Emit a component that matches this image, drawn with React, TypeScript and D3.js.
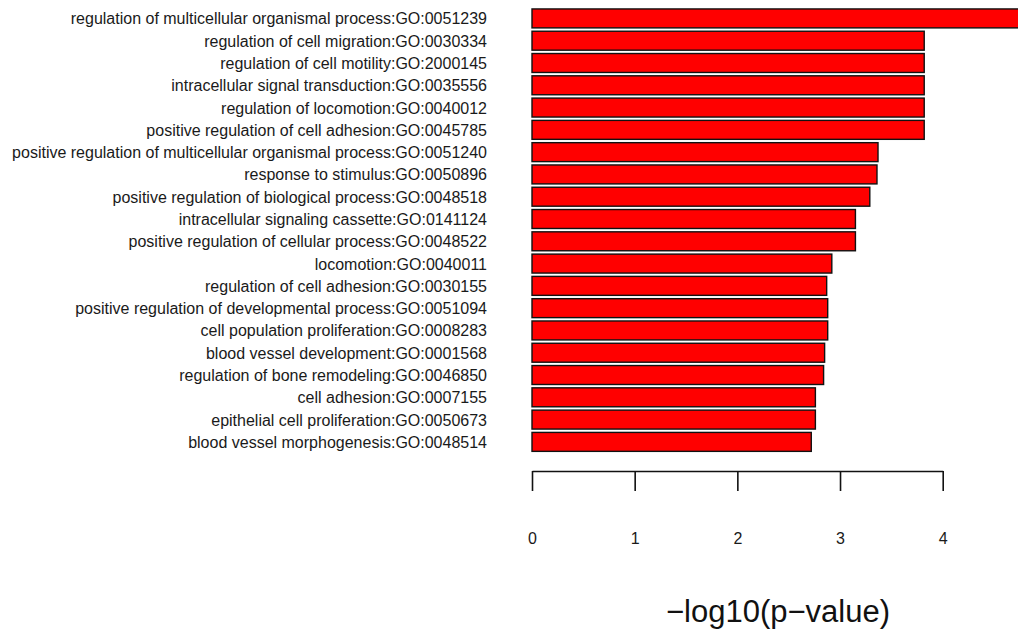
import React, { useEffect, useRef } from "react";
import * as d3 from "d3";

// GO terms, top to bottom
const terms = [
  "regulation of multicellular organismal process:GO:0051239",
  "regulation of cell migration:GO:0030334",
  "regulation of cell motility:GO:2000145",
  "intracellular signal transduction:GO:0035556",
  "regulation of locomotion:GO:0040012",
  "positive regulation of cell adhesion:GO:0045785",
  "positive regulation of multicellular organismal process:GO:0051240",
  "response to stimulus:GO:0050896",
  "positive regulation of biological process:GO:0048518",
  "intracellular signaling cassette:GO:0141124",
  "positive regulation of cellular process:GO:0048522",
  "locomotion:GO:0040011",
  "regulation of cell adhesion:GO:0030155",
  "positive regulation of developmental process:GO:0051094",
  "cell population proliferation:GO:0008283",
  "blood vessel development:GO:0001568",
  "regulation of bone remodeling:GO:0046850",
  "cell adhesion:GO:0007155",
  "epithelial cell proliferation:GO:0050673",
  "blood vessel morphogenesis:GO:0048514",
];

// -log10(p-value)
const scores = [
  5.0, 3.82, 3.82, 3.82, 3.82, 3.82, 3.37, 3.36, 3.29, 3.15, 3.15, 2.92, 2.87,
  2.88, 2.88, 2.85, 2.84, 2.76, 2.76, 2.72,
];

const xTicks = [0, 1, 2, 3, 4];
const xTitle = "\u2212log10(p\u2212value)";

const FONT = "'Liberation Sans', Arial, sans-serif";

const App = () => {
  const ref = useRef<SVGSVGElement>(null);

  useEffect(() => {
    const svg = d3.select(ref.current);
    svg.selectAll("*").remove();

    const x = d3.scaleLinear().domain([0, 4]).range([532, 942.7]);
    const y = d3
      .scaleBand()
      .domain(terms)
      .range([5.6, 454.7])
      .padding(0.15);

    // bars
    svg
      .append("g")
      .selectAll("rect")
      .data(scores)
      .join("rect")
      .attr("x", x(0))
      .attr("y", (d, i) => y(terms[i])!)
      .attr("width", (d) => x(d) - x(0))
      .attr("height", y.bandwidth())
      .attr("fill", "#ff0000")
      .attr("stroke", "#111")
      .attr("stroke-width", 1.4);

    // term labels
    svg
      .append("g")
      .selectAll("text")
      .data(terms)
      .join("text")
      .attr("x", 487)
      .attr("y", (d) => y(d)! + y.bandwidth() / 2 + 6)
      .attr("text-anchor", "end")
      .attr("font-family", FONT)
      .attr("font-size", 16)
      .attr("fill", "#1a1a1a")
      .text((d) => d);

    // x axis
    const axisY = 471;
    const axis = d3
      .axisBottom(x)
      .tickValues(xTicks)
      .tickFormat(d3.format("d"))
      .tickSize(20)
      .tickSizeOuter(0)
      .tickPadding(41.6);
    const g = svg
      .append("g")
      .attr("transform", `translate(0,${axisY})`)
      .call(axis);
    g.select(".domain").attr("stroke", "#111").attr("stroke-width", 1.6);
    g.selectAll(".tick line").attr("stroke", "#111").attr("stroke-width", 1.6);
    g.selectAll(".tick text")
      .attr("font-family", FONT)
      .attr("font-size", 16)
      .attr("fill", "#1a1a1a");

    svg
      .append("text")
      .attr("x", 778)
      .attr("y", 622)
      .attr("text-anchor", "middle")
      .attr("font-family", FONT)
      .attr("font-size", 31)
      .attr("fill", "#111")
      .text(xTitle);
  }, []);

  return (
    <svg
      ref={ref}
      width={1018}
      height={632}
      style={{ position: "absolute", left: 0, top: 0, background: "#fff" }}
    />
  );
};

export default App;
